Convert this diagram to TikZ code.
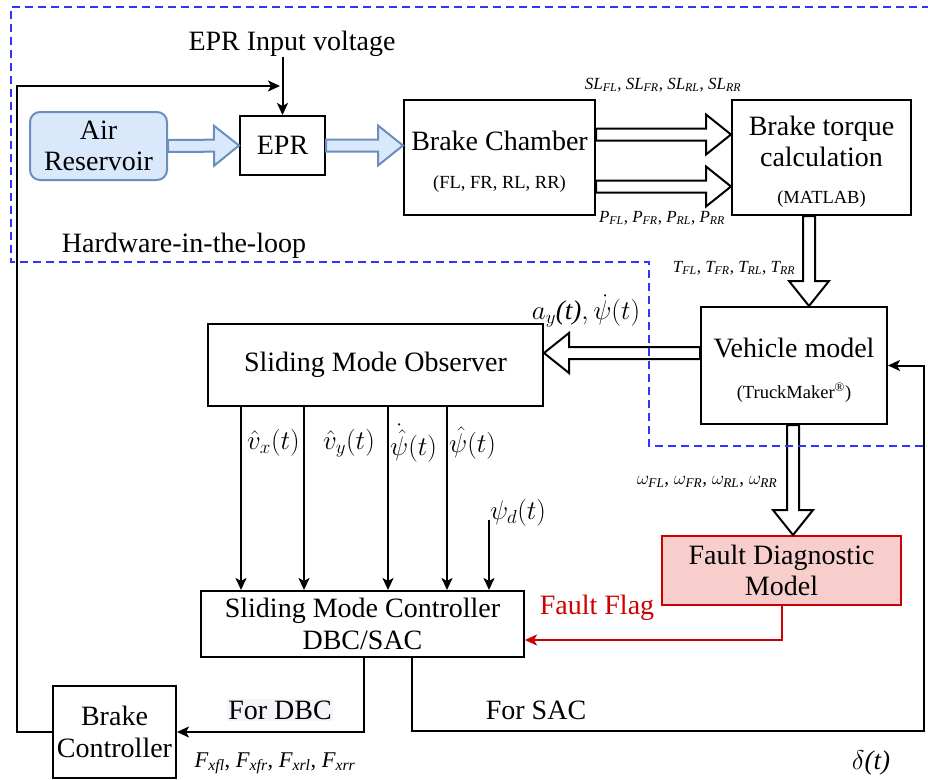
\RequirePackage{fix-cm}
\documentclass[tikz,border=0pt]{standalone}
\usepackage{fontspec}
\setmainfont{Liberation Serif}
\usetikzlibrary{calc,arrows.meta}

\definecolor{hilblue}{HTML}{3333FF}
\definecolor{airfill}{HTML}{DAE8FC}
\definecolor{airline}{HTML}{6C8EBF}
\definecolor{faultfill}{HTML}{F8CECC}
\definecolor{faultline}{HTML}{CC0000}
\definecolor{lblback}{HTML}{F3F5F8}

\tikzset{
  block/.style={draw, line width=2pt, inner sep=0pt, align=center, font=\fontsize{28}{31.5}\selectfont},
  txt/.style={inner sep=0pt, align=center, font=\fontsize{28}{31.5}\selectfont},
  smalltxt/.style={inner sep=0pt, font=\fontsize{18.5}{21}\selectfont},
  idx/.style={inner sep=0pt, font=\fontsize{17}{20}\selectfont},
  mth/.style={inner sep=0pt, font=\fontsize{27}{30}\selectfont},
  flow/.style={line width=2pt, -{Stealth[length=12pt,width=11pt,inset=3pt]}},
  fat/.style={draw, line width=2pt, fill=white, line join=miter},
}

% hollow block arrow from #2 to #3
\newcommand{\fatarrow}[3][]{%
  \coordinate (fa-h) at ($(#3)!25pt!(#2)$);
  \draw[fat,#1] ($(#2)!6pt!90:(#3)$) -- ($(fa-h)!6pt!90:(#3)$)
    -- ($(fa-h)!20pt!90:(#3)$) -- (#3) -- ($(fa-h)!20pt!-90:(#3)$)
    -- ($(fa-h)!6pt!-90:(#3)$) -- ($(#2)!6pt!-90:(#3)$) -- cycle;
}
\newcommand{\wsig}[2]{$\mathit{#1}_{\mathit{#2}}$}

\begin{document}
\begin{tikzpicture}[x=1pt, y=-1pt]
\useasboundingbox (0,0) rectangle (928,779);

% hardware part
\node[block, rounded corners=10pt, draw=airline, fill=airfill,
      minimum width=137pt, minimum height=68pt] (air) at (98.5,146) {Air\\Reservoir};
\node[block, minimum width=85pt, minimum height=59pt] (epr) at (282.5,145.5) {EPR};
\node[txt] (vin) at (292,44) {EPR Input voltage};
\node[block, minimum width=191pt, minimum height=115pt] (bc) at (499.5,157.5) {};
\node[txt] (bc-name) at (499.5,141) {Brake Chamber};
\node[smalltxt] (bc-sub) at (499.5,184) {(FL, FR, RL, RR)};
\node[block, minimum width=179pt, minimum height=115pt] (btc) at (821.5,157.5) {};
\node[txt] (btc-name) at (821.5,141.5) {Brake torque\\calculation};
\node[smalltxt] (btc-sub) at (821.5,199) {(MATLAB)};

% simulation part
\node[block, minimum width=186pt, minimum height=117pt] (vm) at (794,365.5) {};
\node[txt] (vm-name) at (794,348) {Vehicle model};
\node[smalltxt] (vm-sub) at (794,393) {(TruckMaker\textsuperscript{\textregistered})};
\node[block, minimum width=335pt, minimum height=82pt] (smo) at (375.5,365) {Sliding Mode Observer};
\node[block, minimum width=323pt, minimum height=66pt] (smc) at (362.5,624) {Sliding Mode Controller\\DBC/SAC};
\node[block, draw=faultline, fill=faultfill, minimum width=239pt, minimum height=69pt] (fdm) at (781.5,570.5) {Fault Diagnostic\\Model};
\node[block, minimum width=123pt, minimum height=92pt] (brk) at (114.5,732) {Brake\\Controller};

% block arrows
\fatarrow[draw=airline, fill=airfill]{air.east}{epr.west}
\coordinate (bc-in) at (bc.west |- epr.east);
\fatarrow[draw=airline, fill=airfill]{epr.east}{bc-in}
\coordinate (sl-a) at (bc.east |- 0,134.5);
\coordinate (sl-b) at (btc.west |- 0,134.5);
\coordinate (p-a) at (bc.east |- 0,186.5);
\coordinate (p-b) at (btc.west |- 0,186.5);
\fatarrow{sl-a}{sl-b}
\fatarrow{p-a}{p-b}
\coordinate (t-a) at (809,0 |- btc.south);
\coordinate (t-b) at (809,0 |- vm.north);
\fatarrow{t-a}{t-b}
\coordinate (ay-a) at (vm.west |- 0,353);
\coordinate (ay-b) at (smo.east |- 0,353);
\fatarrow{ay-a}{ay-b}
\coordinate (w-a) at (793,0 |- vm.south);
\coordinate (w-b) at (793,0 |- fdm.north);
\fatarrow{w-a}{w-b}

\node[idx] (sl-lbl) at (663,85) {\wsig{SL}{FL}, \wsig{SL}{FR}, \wsig{SL}{RL}, \wsig{SL}{RR}};
\node[idx] (p-lbl) at (662,218) {\wsig{P}{FL}, \wsig{P}{FR}, \wsig{P}{RL}, \wsig{P}{RR}};
\node[idx] (t-lbl) at (734,268) {\wsig{T}{FL}, \wsig{T}{FR}, \wsig{T}{RL}, \wsig{T}{RR}};
\node[idx, font=\fontsize{19}{22}\selectfont] (w-lbl) at (707,482)
  {$\omega_{\mathit{FL}}$, $\omega_{\mathit{FR}}$, $\omega_{\mathit{RL}}$, $\omega_{\mathit{RR}}$};
\node[mth] (ay-lbl) at (586,311) {$a_{y}$\textit{(t)}$,\dot{\psi}(t)$};

% signal lines
\draw[flow] (vin.south -| epr.north) -- (epr.north);
\coordinate (fb) at (280,86);
\draw[flow] (brk.west) -- (17,0 |- brk.west) |- (fb);
\foreach \xx in {241,304,388,447}
  \draw[flow] (\xx,0 |- smo.south) -- (\xx,0 |- smc.north);
\node[mth, anchor=west] (vx-lbl) at (247,443) {$\hat{v}_x(t)$};
\node[mth, anchor=west] (vy-lbl) at (323,443) {$\hat{v}_y(t)$};
\node[mth, anchor=west] (r-lbl) at (390,443) {$\dot{\hat{\psi}}(t)$};
\node[mth, anchor=west] (psi-lbl) at (449,443) {$\hat{\psi}(t)$};

\coordinate (psid) at (489,520);
\draw[flow] (psid) -- (psid |- smc.north);
\node[mth] (psid-lbl) at (518,513) {$\psi_d(t)$};

\draw[flow, draw=faultline, color=faultline] (fdm.south) |- (smc.east |- 0,640);
\node[txt, text=faultline] (flag-lbl) at (597,608) {Fault Flag};

\draw[flow] (364,0 |- smc.south) |- (brk.east);
\node[txt, fill=lblback, inner sep=1.5pt] (dbc-lbl) at (280,710) {For DBC};
\node[idx, font=\fontsize{22.5}{25}\selectfont] (f-lbl) at (275,763)
  {\wsig{F}{xfl}, \wsig{F}{xfr}, \wsig{F}{xrl}, \wsig{F}{xrr}};

\draw[flow] (412,0 |- smc.south) |- (924,731) |- (vm.east);
\node[txt] (sac-lbl) at (536,710) {For SAC};
\node[mth] (delta-lbl) at (871,763) {$\delta$\textit{(t)}};

% hardware-in-the-loop boundary
\draw[hilblue, line width=2pt, dash pattern=on 8pt off 5pt]
  (930,7) -- (11,7) -- (11,262) -- (649,262) -- (649,446) -- (930,446);
\node[txt] (hil-lbl) at (184,246) {Hardware-in-the-loop};
\end{tikzpicture}
\end{document}
